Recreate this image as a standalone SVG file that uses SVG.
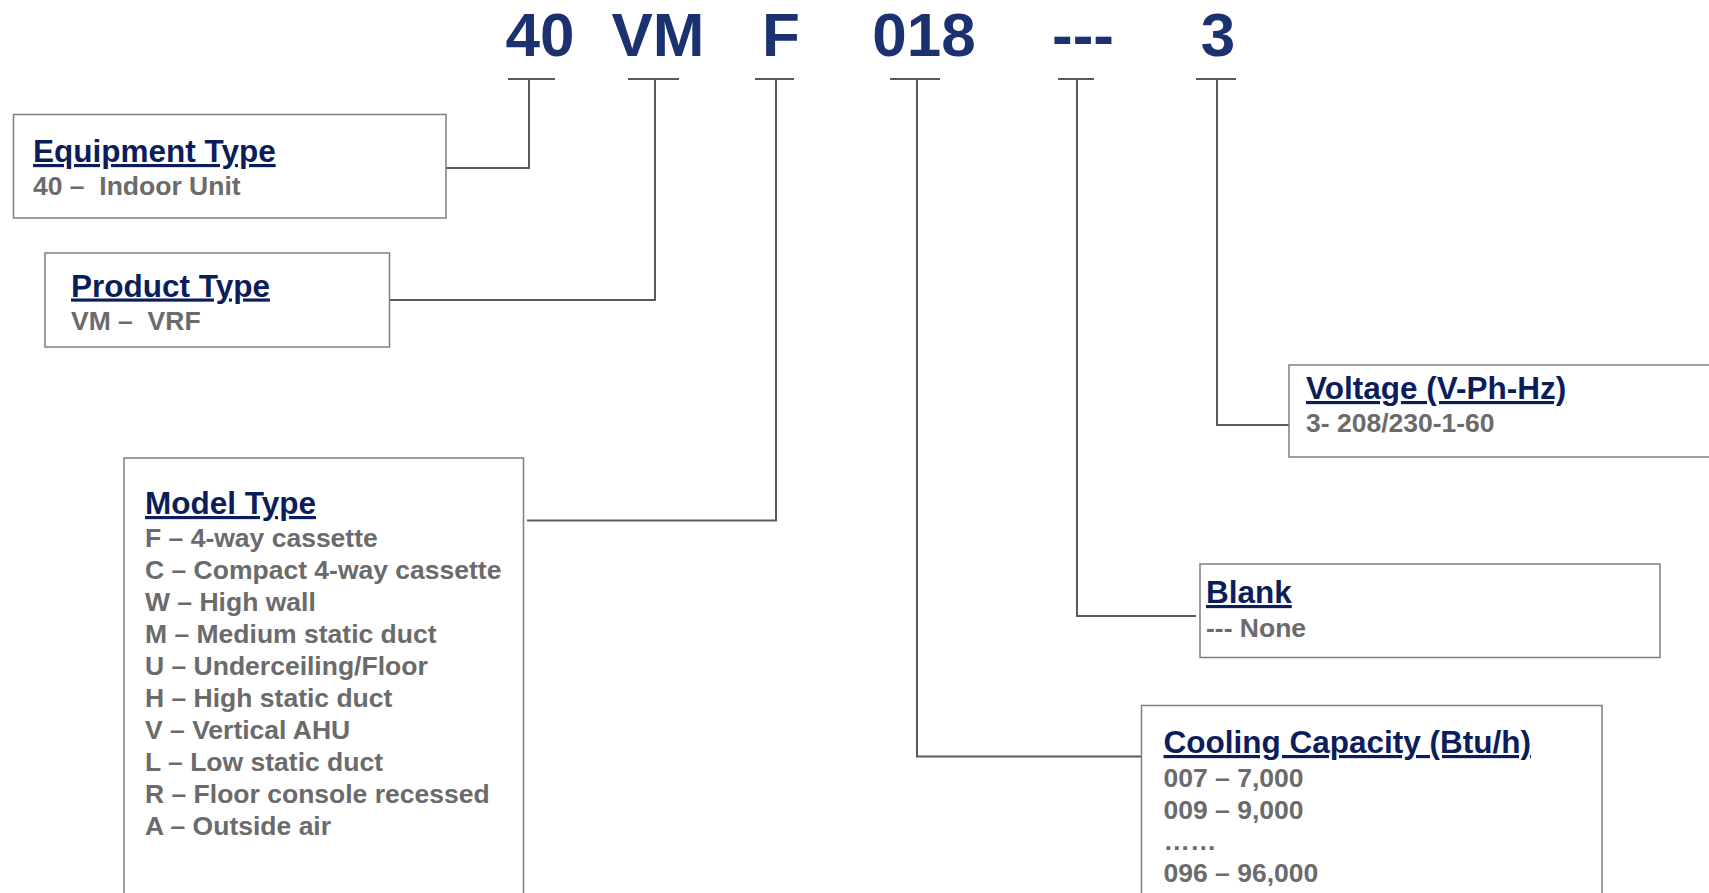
<svg xmlns="http://www.w3.org/2000/svg" width="1709" height="893" viewBox="0 0 1709 893">
<style>
.code{font-family:"Liberation Sans",Arial,sans-serif;font-weight:bold;font-size:62px;fill:#1c3170;text-anchor:middle}
.title{font-family:"Liberation Sans",Arial,sans-serif;font-weight:bold;font-size:31.5px;fill:#0c1d5c;text-decoration:underline}
.item{font-family:"Liberation Sans",Arial,sans-serif;font-weight:bold;font-size:26.5px;fill:#6b6b6b;white-space:pre}
.box{fill:#fff;stroke:#7f7f7f;stroke-width:1.5}
.conn{fill:none;stroke:#5a5a5a;stroke-width:2}
</style>
<rect width="1709" height="893" fill="#fff"/>
<g id="code">
<text class="code" x="540" y="56">40</text>
<text class="code" x="658" y="56">VM</text>
<text class="code" x="781" y="56">F</text>
<text class="code" x="924" y="56">018</text>
<text class="code" x="1083" y="56">---</text>
<text class="code" x="1218" y="56">3</text>
</g>
<g id="connectors">
<path class="conn" d="M508,79 H555 M529,79 V168 H446"/>
<path class="conn" d="M628,79 H679 M655,79 V300 H390"/>
<path class="conn" d="M755,79 H794 M776,79 V520.5 H527"/>
<path class="conn" d="M890,79 H940 M917,79 V756.5 H1141"/>
<path class="conn" d="M1058,79 H1094 M1077,79 V616 H1196"/>
<path class="conn" d="M1196,79 H1236 M1217,79 V425 H1289"/>
</g>
<g id="equipment">
<rect class="box" x="13.5" y="114.5" width="432.5" height="103.5"/>
<text class="title" x="33" y="162">Equipment Type</text>
<text class="item" x="33" y="195" xml:space="preserve">40 –  Indoor Unit</text>
</g>
<g id="product">
<rect class="box" x="45" y="253" width="344.5" height="94"/>
<text class="title" x="71" y="296.5">Product Type</text>
<text class="item" x="71" y="330" xml:space="preserve">VM –  VRF</text>
</g>
<g id="model">
<rect class="box" x="124" y="458" width="399.5" height="460"/>
<text class="title" x="145" y="514">Model Type</text>
<text class="item" x="145" y="547">F – 4-way cassette</text>
<text class="item" x="145" y="579">C – Compact 4-way cassette</text>
<text class="item" x="145" y="611">W – High wall</text>
<text class="item" x="145" y="643">M – Medium static duct</text>
<text class="item" x="145" y="675">U – Underceiling/Floor</text>
<text class="item" x="145" y="707">H – High static duct</text>
<text class="item" x="145" y="739">V – Vertical AHU</text>
<text class="item" x="145" y="771">L – Low static duct</text>
<text class="item" x="145" y="803">R – Floor console recessed</text>
<text class="item" x="145" y="835">A – Outside air</text>
</g>
<g id="voltage">
<rect class="box" x="1289" y="365" width="440" height="92"/>
<text class="title" x="1306" y="399">Voltage (V-Ph-Hz)</text>
<text class="item" x="1306" y="432">3- 208/230-1-60</text>
</g>
<g id="blank">
<rect class="box" x="1200" y="564" width="460" height="93.5"/>
<text class="title" x="1206" y="603">Blank</text>
<text class="item" x="1206" y="637">--- None</text>
</g>
<g id="cooling">
<rect class="box" x="1141.5" y="705.5" width="460.5" height="220"/>
<text class="title" x="1163.5" y="753">Cooling Capacity (Btu/h)</text>
<text class="item" x="1163.5" y="787">007 – 7,000</text>
<text class="item" x="1163.5" y="819">009 – 9,000</text>
<text class="item" x="1163.5" y="850">……</text>
<text class="item" x="1163.5" y="882">096 – 96,000</text>
</g>
</svg>
